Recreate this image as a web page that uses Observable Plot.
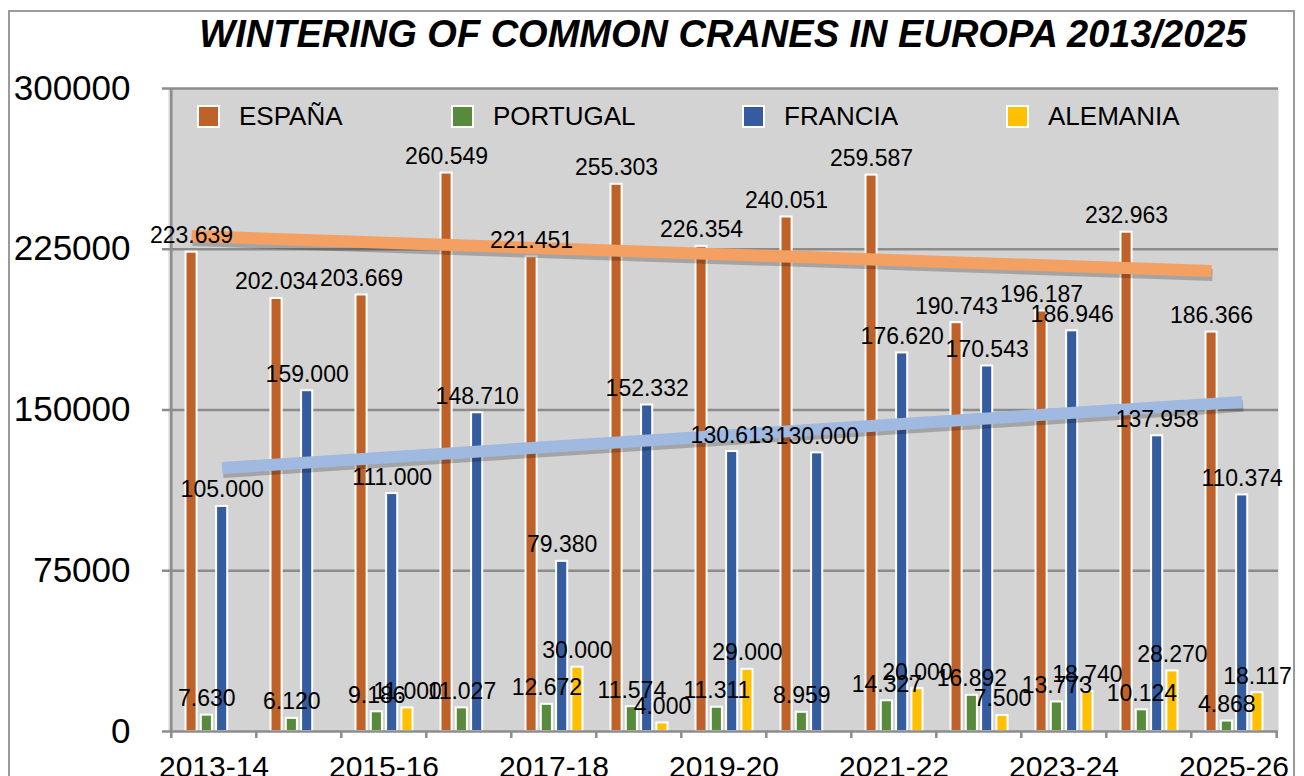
<!DOCTYPE html>
<html>
<head>
<meta charset="utf-8">
<script src="https://cdn.jsdelivr.net/npm/d3@7"></script>
<script src="https://cdn.jsdelivr.net/npm/@observablehq/plot@0.6"></script>
<style>
  body { margin: 0; background: #fff; font-family: "Liberation Sans", Arial, Helvetica, sans-serif; }
  #wrap { position: relative; width: 1304px; height: 776px; overflow: hidden; background: #fff; }
  #border { position: absolute; left: 8px; top: 10px; width: 1287px; height: 820px; border: 2px solid #9a9a9a; box-sizing: border-box; }
  #chart { position: absolute; left: 0; top: 0; }
  #title { position: absolute; left: 723px; top: 15px; transform: translateX(-50%); white-space: nowrap;
           font-size: 38px; line-height: 38px; font-weight: bold; font-style: italic; color: #000; }
  .leg { position: absolute; top: 104px; height: 24px; display: flex; align-items: center; font-size: 26px; color: #000; white-space: nowrap; }
  .leg .sw { width: 19px; height: 19px; border: 2px solid #fff; margin-right: 19px; }
</style>
</head>
<body>
<div id="wrap">
  <div id="border"></div>
  <div id="chart"></div>
  <div id="title">WINTERING OF COMMON CRANES IN EUROPA 2013/2025</div>
  <div id="legend"></div>
</div>
<script>
// ---- data ----
const seasons = ["2013-14","2014-15","2015-16","2016-17","2017-18","2018-19","2019-20","2020-21","2021-22","2022-23","2023-24","2024-25","2025-26"];
const espana   = [223639, 202034, 203669, 260549, 221451, 255303, 226354, 240051, 259587, 190743, 196187, 232963, 186366];
const portugal = [7630, 6120, 9186, 11027, 12672, 11574, 11311, 8959, 14327, 16892, 13773, 10124, 4868];
const francia  = [105000, 159000, 111000, 148710, 79380, 152332, 130613, 130000, 176620, 170543, 186946, 137958, 110374];
const alemania = [null, null, 11000, null, 30000, 4000, 29000, null, 20000, 7500, 18740, 28270, 18117];
const seriesNames  = ["ESPAÑA", "PORTUGAL", "FRANCIA", "ALEMANIA"];
const seriesColors = ["#bf6229", "#578a3b", "#355c9e", "#ffc000"];
const trendColors  = ["#f4a063", "#a0b9e0"];
const yTicks = [0, 75000, 150000, 225000, 300000];
const xTickLabels = ["2013-14","2015-16","2017-18","2019-20","2021-22","2023-24","2025-26"];
const legendX = [197, 451, 742, 1006];

// ---- layout ----
const W = 1304, H = 776, mL = 168, mR = 26, mT = 88, mB = 45;
const bw = (W - mL - mR) / seasons.length;
const slot = 15.3, off0 = 14.5, barW = 11.5;
const gridColor = "#8c8c8c";

const allSeries = [espana, portugal, francia, alemania];
const locale = d3.formatLocale({decimal: ",", thousands: ".", grouping: [3], currency: ["", ""]});
const fmt = locale.format(",d");

function rowsOf(vals) {
  return seasons.map((s, i) => ({season: s, value: vals[i]})).filter(d => d.value != null);
}
function trend(vals) {
  const n = vals.length, xs = d3.range(n);
  const mx = d3.mean(xs), my = d3.mean(vals);
  const b = d3.sum(xs, i => (i - mx) * (vals[i] - my)) / d3.sum(xs, i => (i - mx) ** 2);
  const a = my - b * mx;
  return [{season: seasons[0], value: a}, {season: seasons[n - 1], value: a + b * (n - 1)}];
}

const barMarks = [], labelMarks = [];
allSeries.forEach((vals, k) => {
  const rows = rowsOf(vals);
  const left = off0 + slot * k;
  barMarks.push(Plot.barY(rows, {
    x: "season", y: "value", fill: seriesColors[k], stroke: "white", strokeWidth: 2,
    insetLeft: left, insetRight: bw - left - barW
  }));
  labelMarks.push(Plot.text(rows, {
    x: "season", y: "value", text: d => fmt(d.value),
    dx: left + barW / 2 - bw / 2, dy: -9, lineAnchor: "bottom",
    fontSize: 23, fill: "#000"
  }));
});

const trendMarks = [];
[[espana, 0], [francia, 2]].forEach(([vals, k], j) => {
  const left = off0 + slot * k;
  const tr = trend(vals);
  const cx = left + barW / 2 - bw / 2;
  trendMarks.push(Plot.line(tr, {
    x: "season", y: "value", stroke: "#000", strokeOpacity: 0.22, strokeWidth: 12,
    strokeLinecap: "butt", dx: cx + 1, dy: 4
  }));
  trendMarks.push(Plot.line(tr, {
    x: "season", y: "value", stroke: trendColors[j], strokeWidth: 12,
    strokeLinecap: "butt", dx: cx
  }));
});

const plot = Plot.plot({
  width: W, height: H,
  marginLeft: mL, marginRight: mR, marginTop: mT, marginBottom: mB,
  style: {background: "transparent", color: "#000", fontFamily: "'Liberation Sans', Arial, sans-serif"},
  x: {domain: seasons, type: "band", padding: 0, axis: null},
  y: {domain: [0, 300000], axis: null},
  marks: [
    Plot.frame({fill: "#d3d3d3", stroke: "none"}),
    Plot.ruleY(yTicks.filter(d => d > 0), {stroke: gridColor, strokeWidth: 2.5}),
    ...barMarks,
    Plot.ruleX([seasons[0]], {x: d => d, dx: -bw / 2, stroke: gridColor, strokeWidth: 2.5}),
    Plot.ruleY([0], {stroke: gridColor, strokeWidth: 2.5}),
    Plot.ruleX(seasons, {x: d => d, y1: 0, y2: 0, insetBottom: -7, dx: -bw / 2, stroke: gridColor, strokeWidth: 2.5}),
    Plot.ruleX([seasons[seasons.length - 1]], {x: d => d, y1: 0, y2: 0, insetBottom: -7, dx: bw / 2, stroke: gridColor, strokeWidth: 2.5}),
    ...trendMarks,
    ...labelMarks,
    Plot.axisY(yTicks, {tickSize: 6, tickPadding: 32, fontSize: 35, stroke: gridColor, strokeWidth: 2.5, tickFormat: d => String(d), label: null}),
    Plot.axisX(xTickLabels, {tickSize: 0, tickPadding: 24, fontSize: 30, label: null})
  ]
});

document.getElementById("chart").appendChild(plot);

// legend
const leg = document.getElementById("legend");
seriesNames.forEach((name, k) => {
  const item = document.createElement("div");
  item.className = "leg";
  item.style.left = legendX[k] + "px";
  const sw = document.createElement("div");
  sw.className = "sw";
  sw.style.background = seriesColors[k];
  const t = document.createElement("span");
  t.textContent = name;
  item.appendChild(sw); item.appendChild(t);
  leg.appendChild(item);
});
</script>
</body>
</html>
